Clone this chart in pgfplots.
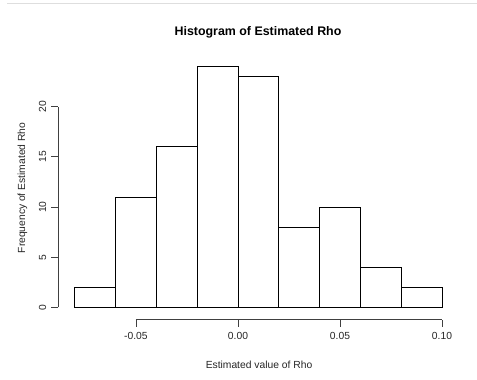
\documentclass[border=0pt]{standalone}
\usepackage{pgfplots}
\pgfplotsset{compat=1.18}
\usepackage{fontspec}
\setmainfont{Liberation Sans}
\begin{document}
\begin{tikzpicture}[x=1bp,y=1bp]
\useasboundingbox (0,0) rectangle (477,-379);
\fill[white] (0,0) rectangle (477,-379);
\draw[black!13, line width=0.8bp] (7,-3.5) -- (477,-3.5);
\begin{axis}[
  at={(58bp,-319.5bp)}, anchor=south west,
  scale only axis, width=384bp, height=263bp,
  xmin=-0.0882, xmax=0.10, ymin=-1.2, ymax=25,
  clip=false,
  axis line style={draw=none},
  /pgf/number format/assume math mode=true,
  xtick={-0.05,0,0.05,0.10}, xticklabels={-0.05,0.00,0.05,0.10},
  ytick={0,5,10,15,20}, yticklabels={0,5,10,15,20},
  tick align=outside, xtick pos=bottom, ytick pos=left,
  major tick length=7bp,
  tick style={black!75, line width=0.8bp},
  ticklabel style={font=\fontsize{10.3bp}{12bp}\selectfont, text=black!85},
  xticklabel style={anchor=base, yshift=-13bp},
  yticklabel style={xshift=-5bp, rotate=90, anchor=base},
]
\addplot[ybar interval, fill=white, draw=black, line width=0.8bp] coordinates {
(-0.08,2) (-0.06,11) (-0.04,16) (-0.02,24) (0.00,23) (0.02,8) (0.04,10) (0.06,4) (0.08,2) (0.10,2)};
\draw[black!75, line width=0.8bp] (axis cs:-0.05,-1.2) -- (axis cs:0.10,-1.2);
\draw[black!75, line width=0.8bp] (axis cs:-0.0882,0) -- (axis cs:-0.0882,20);
\end{axis}
\node[anchor=base, font=\fontsize{12.4bp}{14bp}\selectfont\bfseries] at (258,-35) {Histogram of Estimated Rho};
\node[anchor=base, font=\fontsize{10.3bp}{12bp}\selectfont, text=black!85] at (259,-368) {Estimated value of Rho};
\node[anchor=base, rotate=90, font=\fontsize{10.3bp}{12bp}\selectfont, text=black!85] at (25,-188) {Frequency of Estimated Rho};
\end{tikzpicture}
\end{document}
